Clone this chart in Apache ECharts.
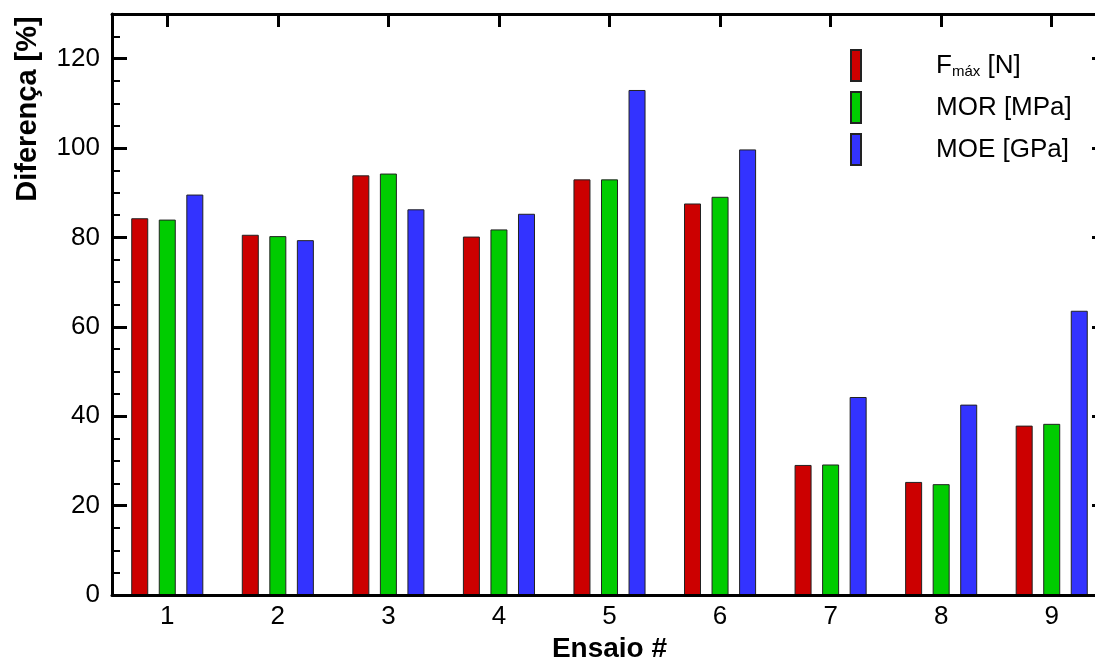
<!DOCTYPE html>
<html>
<head>
<meta charset="utf-8">
<script src="https://cdn.jsdelivr.net/npm/echarts@6/dist/echarts.min.js"></script>
<style>
html,body{margin:0;padding:0;background:#fff;}
#chart{width:1095px;height:661px;}
</style>
</head>
<body>
<div id="chart"></div>
<script>
const categories = ['1','2','3','4','5','6','7','8','9'];
const fmax = [84.3, 80.6, 93.9, 80.2, 93.0, 87.6, 29.1, 25.3, 37.9];
const mor  = [84.0, 80.3, 94.3, 81.8, 93.0, 89.1, 29.2, 24.8, 38.3];
const moe  = [89.6, 79.4, 86.3, 85.3, 113.0, 99.7, 44.3, 42.6, 63.6];
const seriesNames = ['Fmáx [N]', 'MOR [MPa]', 'MOE [GPa]'];
const yTitle = 'Diferença [%]';
const xTitle = 'Ensaio #';

const FONT = 'Liberation Sans, Arial, sans-serif';
const chart = echarts.init(document.getElementById('chart'));

function mkBar(name, data, color){
  return {
    name: name, type: 'bar', data: data, xAxisIndex: 0, yAxisIndex: 0,
    barWidth: 17, barGap: '62%', z: 2,
    itemStyle: {color: color, borderColor: '#222', borderWidth: 1},
    animation: false
  };
}

chart.setOption({
  animation: false,
  backgroundColor: '#fff',
  textStyle: {fontFamily: FONT},
  grid: {left: 112, top: 14, width: 995, height: 581, containLabel: false, outerBoundsMode: 'none'},
  graphic: [{
    type: 'text', x: 28, y: 109, rotation: Math.PI / 2,
    style: {text: yTitle, fontSize: 29, fontWeight: 'bold', fill: '#000', fontFamily: FONT,
            align: 'center', verticalAlign: 'middle'}
  }],
  legend: {
    orient: 'vertical', left: 850, top: 49, padding: 0,
    itemWidth: 10, itemHeight: 31, itemGap: 9,
    icon: 'rect',
    data: seriesNames,
    formatter: function(n){
      if (n === 'Fmáx [N]') return '{a|F}{s|máx}{a| [N]}';
      return '{a|' + n + '}';
    },
    textStyle: {
      color: '#000', fontFamily: FONT, padding: [0,0,0,70],
      rich: {
        a: {fontSize: 26, color: '#000', fontFamily: FONT},
        s: {fontSize: 15, color: '#000', fontFamily: FONT, padding: [13,0,0,0]}
      }
    }
  },
  xAxis: [{
    type: 'category', data: categories, position: 'bottom', z: 10,
    name: xTitle, nameLocation: 'middle', nameGap: 39,
    nameTextStyle: {fontSize: 28, fontWeight: 'bold', color: '#000', fontFamily: FONT},
    axisLine: {onZero: false, lineStyle: {color: '#000', width: 3}},
    axisTick: {inside: true, length: 13, alignWithLabel: true, lineStyle: {color: '#000', width: 3}},
    axisLabel: {fontSize: 26, color: '#000', margin: 9, fontFamily: FONT},
    splitLine: {show: false}
  }, {
    type: 'category', data: categories, position: 'top', z: 10,
    axisLine: {onZero: false, lineStyle: {color: '#000', width: 3}},
    axisTick: {show: true, inside: true, length: 13, alignWithLabel: true, lineStyle: {color: '#000', width: 3}},
    axisLabel: {show: false},
    splitLine: {show: false}
  }],
  yAxis: [{
    type: 'value', min: 0, max: 130, interval: 20, position: 'left', z: 10,
    axisLine: {show: true, onZero: false, lineStyle: {color: '#000', width: 3}},
    axisTick: {show: true, inside: true, length: 15, lineStyle: {color: '#000', width: 3}},
    minorTick: {show: true, splitNumber: 4, length: 8, lineStyle: {color: '#000', width: 2}},
    axisLabel: {fontSize: 26, color: '#000', margin: 12, showMaxLabel: false, fontFamily: FONT},
    splitLine: {show: false}
  }, {
    type: 'value', min: 0, max: 130, interval: 20, position: 'right', z: 10,
    axisLine: {show: true, onZero: false, lineStyle: {color: '#000', width: 3}},
    axisTick: {show: true, inside: true, length: 15, lineStyle: {color: '#000', width: 3}},
    minorTick: {show: true, splitNumber: 4, length: 8, lineStyle: {color: '#000', width: 2}},
    axisLabel: {show: false},
    splitLine: {show: false}
  }],
  series: [
    mkBar(seriesNames[0], fmax, '#cc0000'),
    mkBar(seriesNames[1], mor, '#00cc00'),
    mkBar(seriesNames[2], moe, '#3333ff')
  ]
});
</script>
</body>
</html>
